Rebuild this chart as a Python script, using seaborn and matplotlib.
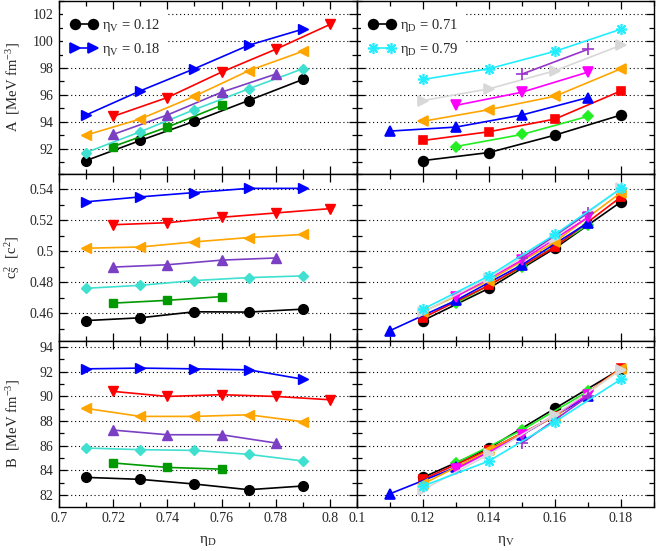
import pandas as pd
import seaborn as sns
import matplotlib.pyplot as plt
from matplotlib.lines import Line2D
from matplotlib.ticker import MultipleLocator, FuncFormatter

# eta_V series, each with its own eta_D points
eta_V_levels = [0.12, 0.13, 0.14, 0.15, 0.16, 0.17, 0.18]
eta_D_points = [
    [0.71, 0.73, 0.75, 0.77, 0.79],
    [0.72, 0.74, 0.76],
    [0.71, 0.73, 0.75, 0.77, 0.79],
    [0.72, 0.74, 0.76, 0.78],
    [0.71, 0.73, 0.75, 0.77, 0.79],
    [0.72, 0.74, 0.76, 0.78, 0.80],
    [0.71, 0.73, 0.75, 0.77, 0.79],
]
A_values = [
    [91.1, 92.6, 94.03, 95.58, 97.15],
    [92.15, 93.6, 95.22],
    [91.7, 93.25, 94.9, 96.45, 97.95],
    [93.05, 94.5, 96.2, 97.55],
    [93.0, 94.2, 95.9, 97.8, 99.25],
    [94.4, 95.8, 97.7, 99.4, 101.25],
    [94.5, 96.3, 97.95, 99.7, 100.9],
]
cs2_values = [
    [0.4552, 0.4570, 0.4609, 0.4607, 0.4626],
    [0.4665, 0.4683, 0.4707],
    [0.4761, 0.4780, 0.4811, 0.4830, 0.4841],
    [0.4898, 0.4913, 0.4943, 0.4957],
    [0.5020, 0.5028, 0.5061, 0.5089, 0.5109],
    [0.5172, 0.5185, 0.5220, 0.5248, 0.5276],
    [0.5320, 0.5352, 0.5380, 0.5407, 0.5407],
]
B_values = [
    [83.43, 83.27, 82.89, 82.43, 82.73],
    [84.6, 84.24, 84.1],
    [85.81, 85.68, 85.62, 85.3, 84.76],
    [87.27, 86.89, 86.89, 86.22],
    [89.03, 88.38, 88.38, 88.51, 87.95],
    [90.41, 90.0, 90.14, 90.0, 89.73],
    [92.24, 92.3, 92.24, 92.16, 91.4],
]
# extra point only shown against eta_V
extra_point = {"eta_V": 0.11, "eta_D": 0.74, "A": 93.3, "cs2": 0.4487, "B": 82.1}

eta_D_levels = [0.71, 0.72, 0.73, 0.74, 0.75, 0.76, 0.77, 0.78, 0.79]

rows = []
for v, ds, a, c, b in zip(eta_V_levels, eta_D_points, A_values, cs2_values, B_values):
    for d, ai, ci, bi in zip(ds, a, c, b):
        rows.append({"eta_V": v, "eta_D": d, "A": ai, "cs2": ci, "B": bi})
data = pd.DataFrame(rows)
data_right = pd.concat([data, pd.DataFrame([extra_point])], ignore_index=True)

left_style = {
    0.12: ("black", "o", 7),
    0.13: ("#009a00", "s", 5.5),
    0.14: ("#40e0d0", "D", 5.5),
    0.15: ("#7b3fc4", "^", 7.5),
    0.16: ("#ffa500", "<", 7.5),
    0.17: ("#ff0000", "v", 7.5),
    0.18: ("#0000ff", ">", 7.5),
}
right_style = {
    0.71: ("black", "o", 7),
    0.72: ("#22ee22", "D", 5.5),
    0.73: ("#ff0000", "s", 6),
    0.74: ("#0000ff", "^", 7.5),
    0.75: ("#ffa500", "<", 7.5),
    0.76: ("#ff00ff", "v", 7.5),
    0.77: ("#d8d8d8", ">", 7.5),
    0.78: ("#9933cc", "+", 8),
    0.79: ("#22eeff", (8, 2, 0), 8),
}

sns.set_style("ticks")
plt.rcParams["font.family"] = ["Liberation Serif", "DejaVu Serif"]
plt.rcParams["mathtext.fontset"] = "custom"
plt.rcParams["mathtext.rm"] = "Liberation Serif"
plt.rcParams["mathtext.it"] = "Liberation Serif:italic"
plt.rcParams["font.size"] = 10

fig = plt.figure(figsize=(6.56, 5.51), dpi=100)
W, H = 656, 551
xl = [59 / W, 357 / W]
wd = [298 / W, 297 / W]
rows_px = [(1, 174), (174, 341), (341, 506.7)]

quantities = ["A", "cs2", "B"]
ylims = [(90.1, 103), (0.442, 0.55), (81.05, 94.5)]
ymajor = [2, 0.02, 2]
yminor = [1, 0.01, 1]
ylabels = ["A  [MeV fm$^{-3}$]", "c$_\\mathrm{S}^{\\,2}$  [c$^{2}$]", "B  [MeV fm$^{-3}$]"]

axes = []
for r, (top, bot) in enumerate(rows_px):
    row_axes = []
    for col in range(2):
        ax = fig.add_axes([xl[col], 1 - bot / H, wd[col], (bot - top) / H])
        row_axes.append(ax)
    axes.append(row_axes)

for r, q in enumerate(quantities):
    axL, axR = axes[r]
    # left: against eta_D, one line per eta_V
    for v in eta_V_levels:
        sub = data[data["eta_V"] == v]
        c, m, ms = left_style[v]
        sns.lineplot(x=sub["eta_D"], y=sub[q], ax=axL, color=c, marker=m,
                     markersize=ms, markeredgecolor=c, markeredgewidth=1,
                     linewidth=1.2, errorbar=None, legend=False)
    # right: against eta_V, one line per eta_D
    for d in eta_D_levels:
        sub = data_right[data_right["eta_D"] == d]
        c, m, ms = right_style[d]
        sns.lineplot(x=sub["eta_V"], y=sub[q], ax=axR, color=c, marker=m,
                     markersize=ms, markeredgecolor=c, markeredgewidth=1.2,
                     linewidth=1.2, errorbar=None, legend=False)

    for col, ax in enumerate((axL, axR)):
        ax.set_ylim(*ylims[r])
        ax.yaxis.set_major_locator(MultipleLocator(ymajor[r]))
        ax.yaxis.set_minor_locator(MultipleLocator(yminor[r]))
        if col == 0:
            ax.set_xlim(0.7, 0.81)
        else:
            ax.set_xlim(0.1, 0.19)
        ax.xaxis.set_major_locator(MultipleLocator(0.02))
        ax.xaxis.set_minor_locator(MultipleLocator(0.01))
        ax.xaxis.set_major_formatter(FuncFormatter(lambda val, pos: "%g" % round(val, 4)))
        ax.yaxis.set_major_formatter(FuncFormatter(lambda val, pos: "%g" % round(val, 4)))
        ax.yaxis.grid(True, which="major", linestyle=(0, (1, 2.5)), color="black", linewidth=0.8)
        ax.set_axisbelow(True)
        ax.tick_params(which="both", direction="in", top=True, right=True,
                       color="black", width=0.9, labelsize=10, pad=4)
        ax.tick_params(which="major", length=6)
        ax.tick_params(which="minor", length=3.5)
        for s in ax.spines.values():
            s.set_linewidth(1.0)
            s.set_color("black")
        ax.set_xlabel("")
        ax.set_ylabel("")
        if r < 2:
            ax.tick_params(labelbottom=False)
        if col == 1:
            ax.tick_params(labelleft=False)
    axL.set_ylabel(ylabels[r], fontsize=10.5)
    axL.yaxis.set_label_coords(-0.125, 0.5)

axes[2][0].set_xlabel("η$_\\mathrm{D}$", fontsize=11)
axes[2][1].set_xlabel("η$_\\mathrm{V}$", fontsize=11)
axes[2][0].xaxis.set_label_coords(0.5, -0.165)
axes[2][1].xaxis.set_label_coords(0.5, -0.165)

def legend_handle(style):
    c, m, ms = style
    return Line2D([], [], color=c, marker=m, markersize=ms, markeredgecolor=c,
                  markeredgewidth=1.2, linewidth=1.2)

legend_kw = dict(loc="upper left", bbox_to_anchor=(0.0, 0.975), numpoints=2,
                 handlelength=1.85, handletextpad=0.3, labelspacing=0.5,
                 borderpad=0.5, borderaxespad=0.3, frameon=True, fancybox=False,
                 fontsize=10.5)

legL = axes[0][0].legend(
    [legend_handle(left_style[0.12]), legend_handle(left_style[0.18])],
    ["η$_\\mathrm{V}$ = 0.12", "η$_\\mathrm{V}$ = 0.18"], **legend_kw)
legL.get_frame().set_edgecolor("none")
legL.get_frame().set_alpha(1)

legR = axes[0][1].legend(
    [legend_handle(right_style[0.71]), legend_handle(right_style[0.79])],
    ["η$_\\mathrm{D}$ = 0.71", "η$_\\mathrm{D}$ = 0.79"], **legend_kw)
legR.get_frame().set_edgecolor("none")
legR.get_frame().set_alpha(1)

fig.savefig("out.png", dpi=100)
